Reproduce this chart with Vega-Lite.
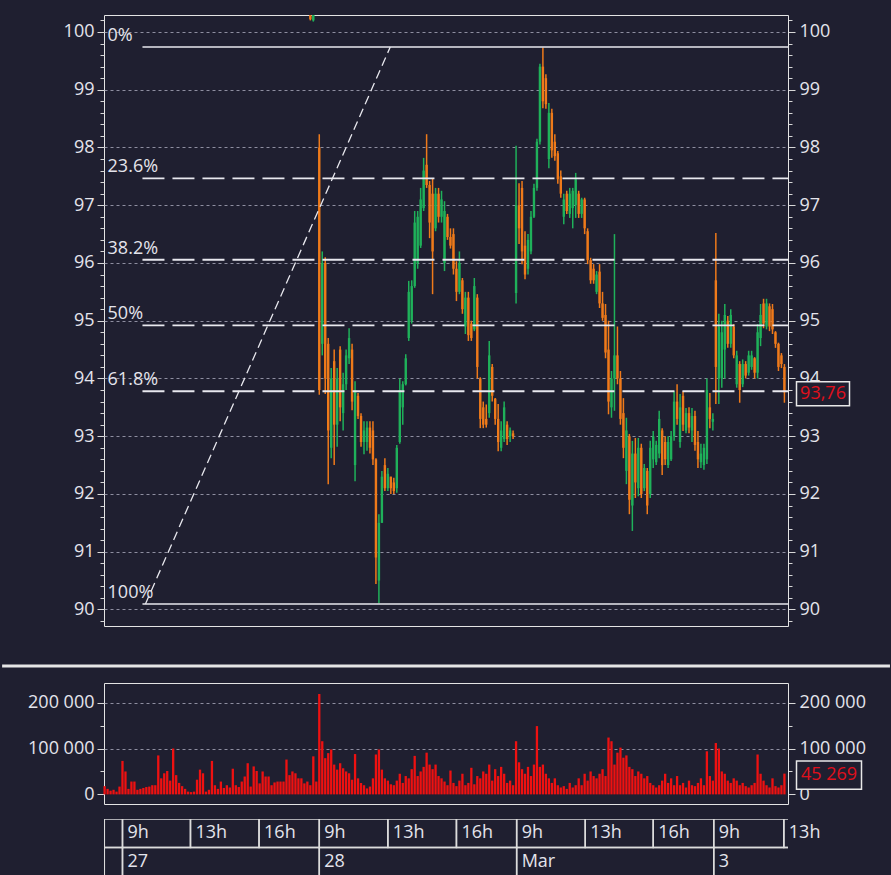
{
"$schema":"https://vega.github.io/schema/vega-lite/v6.json",
"background":"#1f1f30",
"padding":{"left":0,"right":0,"top":10,"bottom":0},
"bounds":"flush",
"spacing":15,
"datasets":{
"candles":[
{"i":63,"o":100.4,"h":100.5,"l":100.2,"c":100.22},{"i":64,"o":100.2,"h":100.5,"l":100.18,"c":100.35},{"i":65,"o":100.35,"h":100.6,"l":100.3,"c":100.4},
{"i":66,"o":98.0,"h":98.23,"l":93.72,"c":93.8},{"i":67,"o":94.6,"h":96.2,"l":94.4,"c":96.0},{"i":68,"o":96.0,"h":96.1,"l":93.73,"c":94.0},{"i":69,"o":94.6,"h":94.7,"l":92.17,"c":93.1},{"i":70,"o":92.8,"h":94.18,"l":92.62,"c":94.0},
{"i":71,"o":94.3,"h":94.5,"l":92.5,"c":93.2},{"i":72,"o":93.2,"h":94.18,"l":92.82,"c":94.0},{"i":73,"o":94.5,"h":94.56,"l":93.26,"c":93.5},{"i":74,"o":93.4,"h":94.1,"l":93.1,"c":93.9},{"i":75,"o":93.9,"h":94.5,"l":93.8,"c":94.4},
{"i":76,"o":94.35,"h":94.87,"l":94.25,"c":94.7},{"i":77,"o":94.5,"h":94.6,"l":93.45,"c":93.6},{"i":78,"o":92.5,"h":93.95,"l":92.22,"c":93.8},{"i":79,"o":93.7,"h":93.75,"l":93.3,"c":93.35},{"i":80,"o":93.35,"h":93.4,"l":92.82,"c":92.9},
{"i":81,"o":92.9,"h":93.26,"l":92.69,"c":93.1},{"i":82,"o":92.9,"h":93.26,"l":92.75,"c":93.15},{"i":83,"o":93.15,"h":93.26,"l":92.7,"c":92.8},{"i":84,"o":93.1,"h":93.26,"l":92.5,"c":92.6},{"i":85,"o":92.6,"h":92.62,"l":90.44,"c":90.9},
{"i":86,"o":90.5,"h":91.65,"l":90.11,"c":91.5},{"i":87,"o":91.5,"h":92.4,"l":91.5,"c":92.3},{"i":88,"o":92.5,"h":92.62,"l":92.05,"c":92.1},{"i":89,"o":92.1,"h":92.45,"l":92.05,"c":92.35},{"i":90,"o":92.3,"h":92.3,"l":92.0,"c":92.1},
{"i":91,"o":92.2,"h":92.28,"l":92.0,"c":92.05},{"i":92,"o":92.1,"h":92.85,"l":92.02,"c":92.8},{"i":93,"o":92.9,"h":94.0,"l":92.87,"c":93.8},{"i":94,"o":93.5,"h":93.95,"l":93.2,"c":93.9},{"i":95,"o":93.9,"h":94.42,"l":93.88,"c":94.35},
{"i":96,"o":94.7,"h":95.69,"l":94.65,"c":95.5},{"i":97,"o":95.0,"h":95.7,"l":94.95,"c":95.6},{"i":98,"o":95.6,"h":96.9,"l":95.57,"c":96.7},{"i":99,"o":96.0,"h":96.9,"l":95.9,"c":96.8},{"i":100,"o":96.3,"h":97.3,"l":96.26,"c":97.1},
{"i":101,"o":96.95,"h":97.82,"l":96.9,"c":97.6},{"i":102,"o":97.7,"h":98.23,"l":97.3,"c":97.35},{"i":103,"o":97.35,"h":97.42,"l":96.43,"c":96.7},{"i":104,"o":97.2,"h":97.47,"l":95.46,"c":96.2},{"i":105,"o":96.6,"h":97.3,"l":96.55,"c":97.2},
{"i":106,"o":97.2,"h":97.3,"l":96.7,"c":96.8},{"i":107,"o":96.8,"h":97.25,"l":96.7,"c":97.1},{"i":108,"o":96.0,"h":97.07,"l":95.86,"c":96.9},{"i":109,"o":96.8,"h":96.85,"l":96.4,"c":96.45},{"i":110,"o":96.45,"h":96.6,"l":96.25,"c":96.3},
{"i":111,"o":96.5,"h":96.6,"l":95.8,"c":95.9},{"i":112,"o":95.9,"h":96.03,"l":95.34,"c":95.5},{"i":113,"o":95.5,"h":96.2,"l":95.46,"c":96.0},{"i":114,"o":95.7,"h":95.74,"l":95.12,"c":95.2},{"i":115,"o":94.9,"h":95.5,"l":94.77,"c":95.4},
{"i":116,"o":95.4,"h":95.5,"l":94.65,"c":94.75},{"i":117,"o":94.95,"h":95.0,"l":94.65,"c":94.7},{"i":118,"o":94.85,"h":95.74,"l":94.82,"c":95.6},{"i":119,"o":95.4,"h":95.46,"l":94.0,"c":94.2},{"i":120,"o":94.0,"h":94.02,"l":93.14,"c":93.3},
{"i":121,"o":93.5,"h":93.6,"l":93.14,"c":93.2},{"i":122,"o":93.3,"h":93.55,"l":93.15,"c":93.2},{"i":123,"o":93.4,"h":94.65,"l":93.32,"c":94.4},{"i":124,"o":94.2,"h":94.25,"l":93.6,"c":93.7},{"i":125,"o":93.65,"h":93.66,"l":93.2,"c":93.3},
{"i":126,"o":93.3,"h":93.56,"l":92.74,"c":92.9},{"i":127,"o":92.8,"h":93.26,"l":92.74,"c":93.1},{"i":128,"o":92.95,"h":93.6,"l":92.9,"c":93.5},{"i":129,"o":93.2,"h":93.26,"l":92.85,"c":92.95},{"i":130,"o":93.0,"h":93.15,"l":92.9,"c":93.1},
{"i":131,"o":93.05,"h":93.1,"l":92.95,"c":93.0},
{"i":132,"o":95.48,"h":98.03,"l":95.3,"c":97.0},{"i":133,"o":97.0,"h":97.38,"l":96.33,"c":96.6},{"i":134,"o":97.3,"h":97.42,"l":95.98,"c":96.2},{"i":135,"o":96.3,"h":96.55,"l":95.72,"c":95.8},{"i":136,"o":95.9,"h":96.5,"l":95.8,"c":96.4},
{"i":137,"o":96.2,"h":96.9,"l":96.15,"c":96.8},{"i":138,"o":96.8,"h":97.37,"l":96.78,"c":97.3},{"i":139,"o":97.3,"h":98.15,"l":97.25,"c":98.1},{"i":140,"o":98.1,"h":99.45,"l":98.05,"c":99.4},{"i":141,"o":99.4,"h":99.73,"l":98.68,"c":98.8},
{"i":142,"o":99.2,"h":99.27,"l":98.67,"c":98.75},{"i":143,"o":97.8,"h":98.77,"l":97.64,"c":98.6},{"i":144,"o":98.6,"h":98.67,"l":97.82,"c":97.95},{"i":145,"o":98.1,"h":98.23,"l":97.77,"c":97.85},{"i":146,"o":97.9,"h":97.94,"l":97.37,"c":97.45},
{"i":147,"o":97.5,"h":97.6,"l":97.13,"c":97.2},{"i":148,"o":96.8,"h":97.2,"l":96.67,"c":97.1},{"i":149,"o":97.2,"h":97.25,"l":96.85,"c":96.9},{"i":150,"o":96.85,"h":97.3,"l":96.78,"c":97.2},{"i":151,"o":96.95,"h":97.3,"l":96.6,"c":97.25},
{"i":152,"o":97.0,"h":97.56,"l":96.78,"c":97.45},{"i":153,"o":97.2,"h":97.25,"l":96.78,"c":96.85},{"i":154,"o":96.85,"h":97.13,"l":96.78,"c":97.1},{"i":155,"o":97.1,"h":97.13,"l":96.5,"c":96.6},{"i":156,"o":96.55,"h":96.6,"l":95.98,"c":96.05},
{"i":157,"o":96.05,"h":96.09,"l":95.64,"c":95.7},{"i":158,"o":95.9,"h":95.98,"l":95.64,"c":95.7},{"i":159,"o":95.5,"h":95.86,"l":95.46,"c":95.8},{"i":160,"o":95.85,"h":95.98,"l":95.22,"c":95.3},{"i":161,"o":95.3,"h":95.5,"l":95.0,"c":95.05},
{"i":162,"o":95.1,"h":95.29,"l":94.35,"c":94.45},{"i":163,"o":94.5,"h":95.0,"l":93.38,"c":93.6},{"i":164,"o":93.5,"h":94.13,"l":93.32,"c":94.0},{"i":165,"o":94.0,"h":96.5,"l":93.44,"c":94.4},{"i":166,"o":94.4,"h":94.9,"l":93.9,"c":94.0},
{"i":167,"o":94.0,"h":94.13,"l":93.2,"c":93.3},{"i":168,"o":93.4,"h":93.66,"l":92.62,"c":92.8},{"i":169,"o":92.4,"h":93.32,"l":92.17,"c":93.1},{"i":170,"o":93.0,"h":93.04,"l":91.65,"c":91.9},{"i":171,"o":91.8,"h":92.92,"l":91.36,"c":92.7},
{"i":172,"o":92.7,"h":92.97,"l":91.93,"c":92.2},{"i":173,"o":92.1,"h":92.97,"l":91.96,"c":92.8},{"i":174,"o":92.8,"h":92.87,"l":91.93,"c":92.0},{"i":175,"o":92.1,"h":92.52,"l":92.05,"c":92.45},{"i":176,"o":92.4,"h":92.45,"l":91.65,"c":91.8},
{"i":177,"o":92.0,"h":92.92,"l":91.93,"c":92.8},{"i":178,"o":92.6,"h":93.09,"l":92.45,"c":93.0},{"i":179,"o":92.55,"h":92.92,"l":92.5,"c":92.85},{"i":180,"o":92.7,"h":93.44,"l":92.62,"c":93.3},{"i":181,"o":93.1,"h":93.14,"l":92.33,"c":92.5},
{"i":182,"o":92.9,"h":93.0,"l":92.5,"c":92.6},{"i":183,"o":92.5,"h":93.0,"l":92.45,"c":92.9},{"i":184,"o":92.6,"h":93.09,"l":92.57,"c":93.0},{"i":185,"o":93.0,"h":93.78,"l":92.92,"c":93.6},{"i":186,"o":93.6,"h":93.9,"l":93.2,"c":93.3},
{"i":187,"o":92.9,"h":93.73,"l":92.8,"c":93.5},{"i":188,"o":93.7,"h":93.78,"l":93.09,"c":93.2},{"i":189,"o":93.1,"h":93.49,"l":93.05,"c":93.4},{"i":190,"o":93.4,"h":93.5,"l":93.05,"c":93.15},{"i":191,"o":93.1,"h":93.49,"l":92.9,"c":93.35},
{"i":192,"o":93.35,"h":93.44,"l":92.75,"c":92.85},{"i":193,"o":92.9,"h":93.09,"l":92.45,"c":92.6},{"i":194,"o":92.55,"h":92.87,"l":92.45,"c":92.7},{"i":195,"o":92.5,"h":92.87,"l":92.42,"c":92.8},{"i":196,"o":92.6,"h":94.0,"l":92.52,"c":93.8},
{"i":197,"o":93.5,"h":93.75,"l":93.14,"c":93.3},{"i":198,"o":93.25,"h":93.4,"l":93.1,"c":93.3},{"i":199,"o":95.7,"h":96.52,"l":93.56,"c":94.2},{"i":200,"o":94.0,"h":95.12,"l":93.56,"c":94.9},{"i":201,"o":94.0,"h":95.0,"l":93.84,"c":94.8},
{"i":202,"o":94.5,"h":95.29,"l":94.0,"c":95.1},{"i":203,"o":95.0,"h":95.08,"l":94.53,"c":94.6},{"i":204,"o":94.6,"h":95.2,"l":94.53,"c":95.1},{"i":205,"o":94.9,"h":94.94,"l":94.35,"c":94.4},{"i":206,"o":93.9,"h":94.48,"l":93.84,"c":94.4},
{"i":207,"o":94.25,"h":94.3,"l":93.58,"c":93.8},{"i":208,"o":93.9,"h":94.33,"l":93.85,"c":94.25},{"i":209,"o":94.25,"h":94.3,"l":94.0,"c":94.05},{"i":210,"o":94.1,"h":94.48,"l":94.05,"c":94.4},{"i":211,"o":94.2,"h":94.48,"l":94.15,"c":94.4},
{"i":212,"o":94.35,"h":94.37,"l":94.0,"c":94.1},{"i":213,"o":94.1,"h":94.94,"l":94.0,"c":94.8},{"i":214,"o":94.7,"h":95.29,"l":94.56,"c":95.1},{"i":215,"o":95.3,"h":95.38,"l":94.87,"c":94.95},{"i":216,"o":94.9,"h":95.38,"l":94.85,"c":95.3},
{"i":217,"o":95.25,"h":95.3,"l":94.82,"c":94.9},{"i":218,"o":95.2,"h":95.29,"l":94.77,"c":94.85},{"i":219,"o":94.8,"h":94.82,"l":94.53,"c":94.6},{"i":220,"o":94.6,"h":94.62,"l":94.13,"c":94.2},{"i":221,"o":94.4,"h":94.44,"l":94.18,"c":94.25},
{"i":222,"o":94.2,"h":94.25,"l":93.58,"c":93.76}
],
"vol":[
{"i":-6,"v":18000},{"i":-5,"v":12000},{"i":-4,"v":8000},{"i":-3,"v":10000},{"i":-2,"v":6000},{"i":-1,"v":17000},{"i":0,"v":73000},{"i":1,"v":50000},{"i":2,"v":12000},{"i":3,"v":28000},
{"i":4,"v":28000},{"i":5,"v":10000},{"i":6,"v":12000},{"i":7,"v":14000},{"i":8,"v":16000},{"i":9,"v":17000},{"i":10,"v":20000},{"i":11,"v":20000},{"i":12,"v":85000},{"i":13,"v":35000},
{"i":14,"v":46000},{"i":15,"v":51000},{"i":16,"v":30000},{"i":17,"v":100000},{"i":18,"v":42000},{"i":19,"v":25000},{"i":20,"v":18000},{"i":21,"v":12000},{"i":22,"v":6000},{"i":23,"v":5000},
{"i":24,"v":6000},{"i":25,"v":32000},{"i":26,"v":54000},{"i":27,"v":46000},{"i":28,"v":6000},{"i":29,"v":10000},{"i":30,"v":73000},{"i":31,"v":20000},{"i":32,"v":12000},{"i":33,"v":28000},
{"i":34,"v":14000},{"i":35,"v":20000},{"i":36,"v":15000},{"i":37,"v":56000},{"i":38,"v":20000},{"i":39,"v":16000},{"i":40,"v":28000},{"i":41,"v":39000},{"i":42,"v":68000},{"i":43,"v":17000},
{"i":44,"v":61000},{"i":45,"v":51000},{"i":46,"v":24000},{"i":47,"v":50000},{"i":48,"v":39000},{"i":49,"v":39000},{"i":50,"v":20000},{"i":51,"v":26000},{"i":52,"v":28000},{"i":53,"v":28000},
{"i":54,"v":28000},{"i":55,"v":76000},{"i":56,"v":42000},{"i":57,"v":50000},{"i":58,"v":46000},{"i":59,"v":35000},{"i":60,"v":35000},{"i":61,"v":24000},{"i":62,"v":28000},{"i":63,"v":20000},
{"i":64,"v":83000},{"i":65,"v":28000},{"i":66,"v":219000},{"i":67,"v":116000},{"i":68,"v":79000},{"i":69,"v":90000},{"i":70,"v":98000},{"i":71,"v":65000},{"i":72,"v":54000},{"i":73,"v":68000},
{"i":74,"v":57000},{"i":75,"v":50000},{"i":76,"v":46000},{"i":77,"v":32000},{"i":78,"v":88000},{"i":79,"v":35000},{"i":80,"v":25000},{"i":81,"v":20000},{"i":82,"v":13000},{"i":83,"v":17000},
{"i":84,"v":35000},{"i":85,"v":87000},{"i":86,"v":98000},{"i":87,"v":54000},{"i":88,"v":35000},{"i":89,"v":30000},{"i":90,"v":22000},{"i":91,"v":20000},{"i":92,"v":30000},{"i":93,"v":45000},
{"i":94,"v":25000},{"i":95,"v":40000},{"i":96,"v":35000},{"i":97,"v":55000},{"i":98,"v":84000},{"i":99,"v":40000},{"i":100,"v":50000},{"i":101,"v":60000},{"i":102,"v":91000},{"i":103,"v":65000},
{"i":104,"v":55000},{"i":105,"v":65000},{"i":106,"v":40000},{"i":107,"v":35000},{"i":108,"v":28000},{"i":109,"v":20000},{"i":110,"v":52000},{"i":111,"v":25000},{"i":112,"v":18000},{"i":113,"v":30000},
{"i":114,"v":45000},{"i":115,"v":20000},{"i":116,"v":25000},{"i":117,"v":58000},{"i":118,"v":22000},{"i":119,"v":40000},{"i":120,"v":35000},{"i":121,"v":50000},{"i":122,"v":45000},{"i":123,"v":65000},
{"i":124,"v":30000},{"i":125,"v":55000},{"i":126,"v":40000},{"i":127,"v":60000},{"i":128,"v":45000},{"i":129,"v":25000},{"i":130,"v":30000},{"i":131,"v":20000},{"i":132,"v":116000},{"i":133,"v":70000},
{"i":134,"v":55000},{"i":135,"v":45000},{"i":136,"v":60000},{"i":137,"v":40000},{"i":138,"v":65000},{"i":139,"v":149000},{"i":140,"v":60000},{"i":141,"v":65000},{"i":142,"v":45000},{"i":143,"v":35000},
{"i":144,"v":25000},{"i":145,"v":35000},{"i":146,"v":20000},{"i":147,"v":15000},{"i":148,"v":18000},{"i":149,"v":12000},{"i":150,"v":25000},{"i":151,"v":15000},{"i":152,"v":20000},{"i":153,"v":35000},
{"i":154,"v":20000},{"i":155,"v":45000},{"i":156,"v":30000},{"i":157,"v":50000},{"i":158,"v":40000},{"i":159,"v":35000},{"i":160,"v":45000},{"i":161,"v":55000},{"i":162,"v":40000},{"i":163,"v":124000},
{"i":164,"v":116000},{"i":165,"v":65000},{"i":166,"v":91000},{"i":167,"v":102000},{"i":168,"v":80000},{"i":169,"v":85000},{"i":170,"v":60000},{"i":171,"v":55000},{"i":172,"v":40000},{"i":173,"v":50000},
{"i":174,"v":45000},{"i":175,"v":35000},{"i":176,"v":40000},{"i":177,"v":25000},{"i":178,"v":20000},{"i":179,"v":15000},{"i":180,"v":20000},{"i":181,"v":30000},{"i":182,"v":45000},{"i":183,"v":25000},
{"i":184,"v":35000},{"i":185,"v":20000},{"i":186,"v":40000},{"i":187,"v":20000},{"i":188,"v":25000},{"i":189,"v":15000},{"i":190,"v":30000},{"i":191,"v":20000},{"i":192,"v":18000},{"i":193,"v":25000},
{"i":194,"v":35000},{"i":195,"v":20000},{"i":196,"v":94000},{"i":197,"v":40000},{"i":198,"v":30000},{"i":199,"v":112000},{"i":200,"v":100000},{"i":201,"v":50000},{"i":202,"v":45000},{"i":203,"v":30000},
{"i":204,"v":25000},{"i":205,"v":35000},{"i":206,"v":30000},{"i":207,"v":20000},{"i":208,"v":25000},{"i":209,"v":18000},{"i":210,"v":15000},{"i":211,"v":20000},{"i":212,"v":25000},{"i":213,"v":87000},
{"i":214,"v":45000},{"i":215,"v":30000},{"i":216,"v":20000},{"i":217,"v":15000},{"i":218,"v":35000},{"i":219,"v":18000},{"i":220,"v":15000},{"i":221,"v":20000},{"i":222,"v":45269}
],
"fib":[{"lab":"0%","p":99.74,"s":1},{"lab":"23.6%","p":97.464,"s":0},{"lab":"38.2%","p":96.056,"s":0},{"lab":"50%","p":94.918,"s":0},{"lab":"61.8%","p":93.779,"s":0},{"lab":"100%","p":90.095,"s":1}],
"tbl":[{"row":"h","a":-6.1,"b":0,"t":""},{"row":"h","a":0,"b":22.8,"t":"9h"},{"row":"h","a":22.8,"b":45.8,"t":"13h"},{"row":"h","a":45.8,"b":66,"t":"16h"},{"row":"h","a":66,"b":89,"t":"9h"},{"row":"h","a":89,"b":112,"t":"13h"},{"row":"h","a":112,"b":132.2,"t":"16h"},{"row":"h","a":132.2,"b":155.2,"t":"9h"},{"row":"h","a":155.2,"b":178,"t":"13h"},{"row":"h","a":178,"b":198.3,"t":"16h"},{"row":"h","a":198.3,"b":221.8,"t":"9h"},{"row":"h","a":221.8,"b":240,"t":"13h"},
{"row":"d","a":-6.1,"b":0,"t":""},{"row":"d","a":0,"b":66,"t":"27"},{"row":"d","a":66,"b":132.2,"t":"28"},{"row":"d","a":132.2,"b":198.3,"t":"Mar"},{"row":"d","a":198.3,"b":240,"t":"3"}]
},
"vconcat":[
{
"width":684,"height":611,
"resolve":{"axis":{"y":"independent"}},
"layer":[
{"data":{"name":"candles"},"mark":{"type":"rule","strokeWidth":1.5,"clip":true},
"encoding":{
"x":{"field":"i","type":"quantitative","scale":{"domain":[-6.2,223.2],"nice":false,"zero":false,"padding":0},"axis":null},
"y":{"field":"l","type":"quantitative","scale":{"domain":[89.714,100.294],"nice":false,"zero":false},
"axis":{"orient":"left","title":null,"tickCount":1000,"values":[89.8,90,90.2,90.4,90.6,90.8,91,91.2,91.4,91.6,91.8,92,92.2,92.4,92.6,92.8,93,93.2,93.4,93.6,93.8,94,94.2,94.4,94.6,94.8,95,95.2,95.4,95.6,95.8,96,96.2,96.4,96.6,96.8,97,97.2,97.4,97.6,97.8,98,98.2,98.4,98.6,98.8,99,99.2,99.4,99.6,99.8,100,100.2],
"labelExpr":"datum.value % 1 === 0 ? format(datum.value, 'd') : ''","grid":true,
"gridOpacity":{"condition":{"test":"datum.value % 1 === 0","value":1},"value":0},
"tickSize":{"condition":{"test":"datum.value % 1 === 0","value":7},"value":4},"labelPadding":3}},
"y2":{"field":"h"},
"color":{"condition":{"test":"datum.c >= datum.o","value":"#1fb15a"},"value":"#ef7a1a"}}},
{"data":{"name":"candles"},"mark":{"type":"bar","size":2.4,"clip":true},
"encoding":{
"x":{"field":"i","type":"quantitative"},
"y":{"field":"o","type":"quantitative",
"axis":{"orient":"right","title":null,"tickCount":1000,"values":[89.8,90,90.2,90.4,90.6,90.8,91,91.2,91.4,91.6,91.8,92,92.2,92.4,92.6,92.8,93,93.2,93.4,93.6,93.8,94,94.2,94.4,94.6,94.8,95,95.2,95.4,95.6,95.8,96,96.2,96.4,96.6,96.8,97,97.2,97.4,97.6,97.8,98,98.2,98.4,98.6,98.8,99,99.2,99.4,99.6,99.8,100,100.2],
"labelExpr":"datum.value % 1 === 0 ? format(datum.value, 'd') : ''","grid":false,
"tickSize":{"condition":{"test":"datum.value % 1 === 0","value":7},"value":4},"labelPadding":4}},
"y2":{"field":"c"},
"color":{"condition":{"test":"datum.c >= datum.o","value":"#1fb15a"},"value":"#ef7a1a"}}},
{"data":{"name":"fib"},"transform":[{"filter":"datum.s == 1"}],"mark":{"type":"rule","color":"#e8e8ee","strokeWidth":1.5},
"encoding":{"x":{"datum":6.7},"x2":{"datum":223.2},"y":{"field":"p","type":"quantitative","axis":null}}},
{"data":{"name":"fib"},"transform":[{"filter":"datum.s == 0"}],"mark":{"type":"rule","color":"#e8e8ee","strokeWidth":1.8,"strokeDash":[22,8]},
"encoding":{"x":{"datum":6.7},"x2":{"datum":223.2},"y":{"field":"p","type":"quantitative","axis":null}}},
{"data":{"values":[{"i":7.7,"p":90.095},{"i":89.8,"p":99.74}]},"mark":{"type":"line","color":"#e8e8ee","strokeWidth":1.3,"strokeDash":[9,5]},
"encoding":{"x":{"field":"i","type":"quantitative"},"y":{"field":"p","type":"quantitative","axis":null}}},
{"data":{"name":"fib"},"mark":{"type":"text","align":"left","baseline":"alphabetic","dy":-6,"fontSize":18,"color":"#e4e4ec"},
"encoding":{"x":{"datum":-5.0},"y":{"field":"p","type":"quantitative","axis":null},"text":{"field":"lab"}}},
{"data":{"values":[{"last":93.76,"txt":"93,76"}]},"mark":{"type":"point","shape":"M-1,-0.453L1,-0.453L1,0.453L-1,0.453Z","size":2809,"filled":true,"fill":"#1f1f30","stroke":"#e8e8e8","strokeWidth":1.5,"opacity":1,"xOffset":35,"yOffset":1.5},
"encoding":{"x":{"datum":223.2},"y":{"field":"last","type":"quantitative","axis":null}}},
{"data":{"values":[{"last":93.76,"txt":"93,76"}]},"mark":{"type":"text","color":"#e0101c","fontSize":18,"align":"center","baseline":"middle","xOffset":35,"yOffset":1.5},
"encoding":{"x":{"datum":223.2},"y":{"field":"last","type":"quantitative","axis":null},"text":{"field":"txt"}}}
]
},
{
"width":684,"height":27,"view":{"stroke":null},
"data":{"values":[{"a":-40.37,"b":257.4}]},
"mark":{"type":"rule","color":"#e6e6e6","strokeWidth":3,"clip":false},
"encoding":{"x":{"field":"a","type":"quantitative","scale":{"domain":[-6.2,223.2],"nice":false,"zero":false,"padding":0},"axis":null},"x2":{"field":"b"},"y":{"datum":0.074,"type":"quantitative","scale":{"domain":[0,1]},"axis":null}}
},
{
"width":684,"height":121,
"resolve":{"axis":{"y":"independent"}},
"layer":[
{"data":{"name":"vol"},"mark":{"type":"bar","size":2.3,"color":"#ee1111"},
"encoding":{
"x":{"field":"i","type":"quantitative","scale":{"domain":[-6.2,223.2],"nice":false,"zero":false,"padding":0},"axis":null},
"y":{"field":"v","type":"quantitative","scale":{"domain":[-21000,243000],"nice":false,"zero":false},
"axis":{"orient":"left","title":null,"tickCount":100,"values":[0,50000,100000,150000,200000],
"labelExpr":"datum.value % 100000 === 0 ? replace(format(datum.value, ','), ',', ' ') : ''","grid":true,
"gridOpacity":{"condition":{"test":"datum.value > 0 && datum.value % 100000 === 0","value":1},"value":0},
"tickSize":{"condition":{"test":"datum.value % 100000 === 0","value":7},"value":4},"labelPadding":3}},
"y2":{"datum":0}}},
{"data":{"values":[{"last":45269,"txt":"45 269"}]},"mark":{"type":"point","shape":"M-1,-0.431L1,-0.431L1,0.431L-1,0.431Z","size":4225,"filled":true,"fill":"#1f1f30","stroke":"#e8e8e8","strokeWidth":1.5,"opacity":1,"xOffset":41,"yOffset":1.5},
"encoding":{"x":{"datum":223.2},"y":{"field":"last","type":"quantitative",
"axis":{"orient":"right","title":null,"tickCount":100,"values":[0,50000,100000,150000,200000],
"labelExpr":"datum.value % 100000 === 0 ? replace(format(datum.value, ','), ',', ' ') : ''","grid":false,
"tickSize":{"condition":{"test":"datum.value % 100000 === 0","value":7},"value":4},"labelPadding":4}}}},
{"data":{"values":[{"last":45269,"txt":"45 269"}]},"mark":{"type":"text","color":"#e0101c","fontSize":18,"align":"center","baseline":"middle","xOffset":41,"yOffset":1.5},
"encoding":{"x":{"datum":223.2},"y":{"field":"last","type":"quantitative","axis":null},"text":{"field":"txt"}}}
]
},
{
"width":684,"height":57,"view":{"stroke":null},
"data":{"name":"tbl"},
"layer":[
{"mark":{"type":"rect","fill":"transparent","stroke":"#dcdcdc","strokeWidth":1.5,"clip":true},
"encoding":{"x":{"field":"a","type":"quantitative","scale":{"domain":[-6.2,223.2],"nice":false,"zero":false,"padding":0},"axis":null},"x2":{"field":"b"},
"y":{"field":"row","type":"ordinal","scale":{"domain":["h","d"],"paddingInner":0,"paddingOuter":0},"axis":null}}},
{"mark":{"type":"text","align":"left","baseline":"middle","dx":5,"fontSize":18,"color":"#e4e4ec"},
"encoding":{"x":{"field":"a","type":"quantitative"},"y":{"field":"row","type":"ordinal"},"text":{"field":"t"}}}
]
}
],
"config":{
"view":{"stroke":"#e4e4e4","strokeWidth":1},
"font":"Open Sans",
"axis":{"labelFont":"Open Sans","labelFontSize":18,"labelColor":"#e4e4ec","tickColor":"#d8d8d8","tickWidth":1,"gridColor":"#8e8ea0","gridDash":[3,3],"gridWidth":1,"domain":false,"labelOverlap":false,"labelBound":false,"labelFlush":false},
"text":{"font":"Open Sans"}
}
}
